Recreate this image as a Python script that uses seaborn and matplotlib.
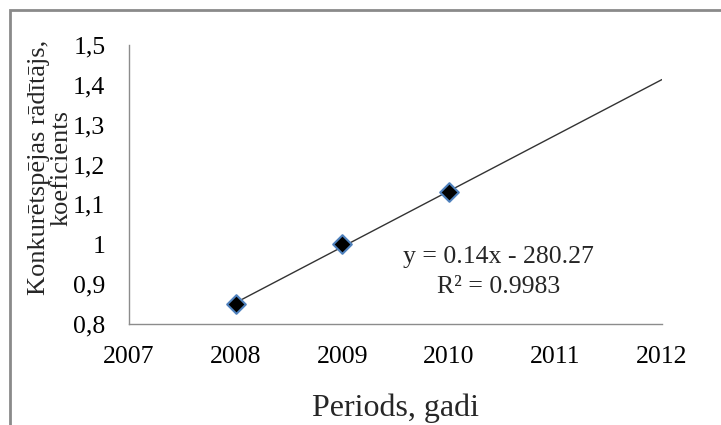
import numpy as np
import pandas as pd
import matplotlib
matplotlib.use("Agg")
import matplotlib.pyplot as plt
import seaborn as sns
from matplotlib.patches import Rectangle

years = [2008, 2009, 2010]
values = [0.85, 1.00, 1.13]
trend_years = [2008, 2012]
x_ticks = [2007, 2008, 2009, 2010, 2011, 2012]
y_ticks = [0.8, 0.9, 1.0, 1.1, 1.2, 1.3, 1.4, 1.5]
y_tick_labels = ["0,8", "0,9", "1", "1,1", "1,2", "1,3", "1,4", "1,5"]


def fit_trend(xs, ys, x_out):
    slope, intercept = np.polyfit(xs, ys, 1)
    pred = slope * np.array(x_out) + intercept
    r2 = 1 - np.sum((np.array(ys) - (slope * np.array(xs) + intercept)) ** 2) / np.sum((np.array(ys) - np.mean(ys)) ** 2)
    return pred, slope, intercept, r2


sns.set_style("white")
plt.rcParams['font.family'] = ['Liberation Serif', 'DejaVu Serif']

fig = plt.figure(figsize=(7.21, 4.25), dpi=100)
ax = fig.add_axes([129 / 721, 101 / 425, 533 / 721, 279 / 425])

df = pd.DataFrame({"year": years, "value": values})
trend, slope, intercept, r2 = fit_trend(years, values, trend_years)

sns.lineplot(x=trend_years, y=trend, ax=ax, color="#333333", linewidth=1.0)
sns.scatterplot(data=df, x="year", y="value", ax=ax, marker="D", s=90,
                color="black", edgecolor="#4F81BD", linewidth=1.5, zorder=3)

ax.set_xlim(2007, 2012)
ax.set_ylim(0.8, 1.5)
ax.set_xticks(x_ticks)
ax.set_xticklabels([str(x) for x in x_ticks])
ax.set_yticks(y_ticks)
ax.set_yticklabels(y_tick_labels)
ax.tick_params(axis="x", length=0, labelsize=18.5, colors="black", pad=16)
ax.tick_params(axis="y", length=0, labelsize=18.5, colors="black", pad=17)

for side in ["top", "right"]:
    ax.spines[side].set_visible(False)
for side in ["left", "bottom"]:
    ax.spines[side].set_color("#8c8c8c")
    ax.spines[side].set_linewidth(1.0)

ax.set_xlabel("Periods, gadi", fontsize=23, labelpad=18)
ax.set_ylabel("Konkurētspējas rādītājs,\nkoeficients", fontsize=19, linespacing=1.05)
ax.yaxis.set_label_coords(-0.105, 0.56)

ax.text(2010.47, 0.968, "y = 0.14x - 280.27", fontsize=18.5, ha="center", va="center")
ax.text(2010.47, 0.893, "R\u00b2 = 0.9983", fontsize=18.5, ha="center", va="center")

fig.patches.append(Rectangle((10 / 721, -0.1), 1.2, (425 - 10) / 425 + 0.1,
                             transform=fig.transFigure, fill=False,
                             edgecolor="#8a8a8a", linewidth=2))

fig.savefig("out.png", dpi=100)
